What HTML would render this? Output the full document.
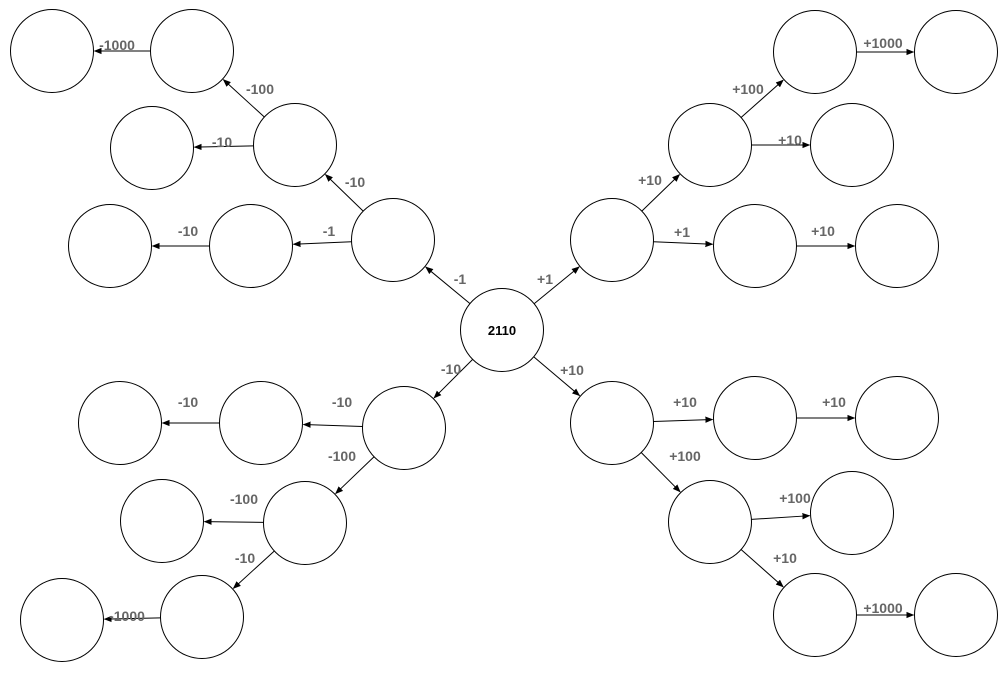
<!DOCTYPE html>
<html><head><meta charset="utf-8"><style>
html,body{margin:0;padding:0;background:#fff;}
svg{display:block;}
.l{font-family:"Liberation Sans",Arial,sans-serif;font-size:14px;font-weight:bold;fill:#666;}
</style></head><body>
<svg id="s" width="1007" height="691" viewBox="0 0 1007 691" xmlns="http://www.w3.org/2000/svg">
<defs><marker id="a" viewBox="0 0 10 10" refX="9" refY="5" markerWidth="8" markerHeight="8" markerUnits="userSpaceOnUse" orient="auto"><path d="M0,1 L10,5 L0,9 z" fill="#000"/></marker></defs>
<g id="e"></g><g id="n"></g>
<text x="502" y="335" text-anchor="middle" style="font-family:'Liberation Sans',Arial,sans-serif;font-size:13px;font-weight:bold;fill:#000">2110</text>
<g class="l">
<text x="117" y="50" text-anchor="middle">-1000</text>
<text x="260" y="94" text-anchor="middle">-100</text>
<text x="222" y="147" text-anchor="middle">-10</text>
<text x="355" y="187" text-anchor="middle">-10</text>
<text x="329" y="236" text-anchor="middle">-1</text>
<text x="188" y="236" text-anchor="middle">-10</text>
<text x="460" y="284" text-anchor="middle">-1</text>
<text x="451" y="374" text-anchor="middle">-10</text>
<text x="342" y="407" text-anchor="middle">-10</text>
<text x="188" y="407" text-anchor="middle">-10</text>
<text x="342" y="461" text-anchor="middle">-100</text>
<text x="244" y="504" text-anchor="middle">-100</text>
<text x="245" y="563" text-anchor="middle">-10</text>
<text x="127" y="621" text-anchor="middle">-1000</text>
<text x="545" y="284" text-anchor="middle">+1</text>
<text x="650" y="185" text-anchor="middle">+10</text>
<text x="748" y="94" text-anchor="middle">+100</text>
<text x="883" y="48" text-anchor="middle">+1000</text>
<text x="790" y="145" text-anchor="middle">+10</text>
<text x="682" y="237" text-anchor="middle">+1</text>
<text x="823" y="236" text-anchor="middle">+10</text>
<text x="572" y="375" text-anchor="middle">+10</text>
<text x="685" y="407" text-anchor="middle">+10</text>
<text x="834" y="407" text-anchor="middle">+10</text>
<text x="685" y="461" text-anchor="middle">+100</text>
<text x="795" y="503" text-anchor="middle">+100</text>
<text x="785" y="563" text-anchor="middle">+10</text>
<text x="883" y="613" text-anchor="middle">+1000</text>
</g>
</svg>
<script>
var N={C0:[502,330],A:[52,51],B:[192,51],C:[152,148],D:[295,145],E:[110,246],F:[251,246],G:[393,240],
H:[120,423],I:[261,423],J:[404,428],K:[162,521],L:[305,523],M:[62,620],Nn:[202,617],
P1:[612,240],P2:[710,145],P3:[815,52],P4:[956,52],P5:[852,145],P6:[755,246],P7:[897,246],
Q1:[612,423],Q2:[755,418],Q3:[897,418],Q4:[710,522],Q5:[852,513],Q6:[815,615],Q7:[956,615]};
var E=[["C0","G"],["G","D"],["D","B"],["B","A"],["D","C"],["G","F"],["F","E"],
["C0","J"],["J","I"],["I","H"],["J","L"],["L","K"],["L","Nn"],["Nn","M"],
["C0","P1"],["P1","P2"],["P2","P3"],["P3","P4"],["P2","P5"],["P1","P6"],["P6","P7"],
["C0","Q1"],["Q1","Q2"],["Q2","Q3"],["Q1","Q4"],["Q4","Q5"],["Q4","Q6"],["Q6","Q7"]];
var ns="http://www.w3.org/2000/svg",R=41.5;
var ge=document.getElementById("e"),gn=document.getElementById("n");
for(var k in N){var c=document.createElementNS(ns,"ellipse");c.setAttribute("cx",N[k][0]);c.setAttribute("cy",N[k][1]);c.setAttribute("rx",R);c.setAttribute("ry",R);c.setAttribute("fill","#fff");c.setAttribute("stroke","#000");c.setAttribute("stroke-width","1");gn.appendChild(c);}
E.forEach(function(p){var a=N[p[0]],b=N[p[1]],dx=b[0]-a[0],dy=b[1]-a[1],d=Math.sqrt(dx*dx+dy*dy),ux=dx/d,uy=dy/d;
var l=document.createElementNS(ns,"line");l.setAttribute("x1",a[0]+ux*R);l.setAttribute("y1",a[1]+uy*R);l.setAttribute("x2",b[0]-ux*(R+1));l.setAttribute("y2",b[1]-uy*(R+1));l.setAttribute("stroke","#000");l.setAttribute("stroke-width","1");l.setAttribute("marker-end","url(#a)");ge.appendChild(l);});
</script>
</body></html>
